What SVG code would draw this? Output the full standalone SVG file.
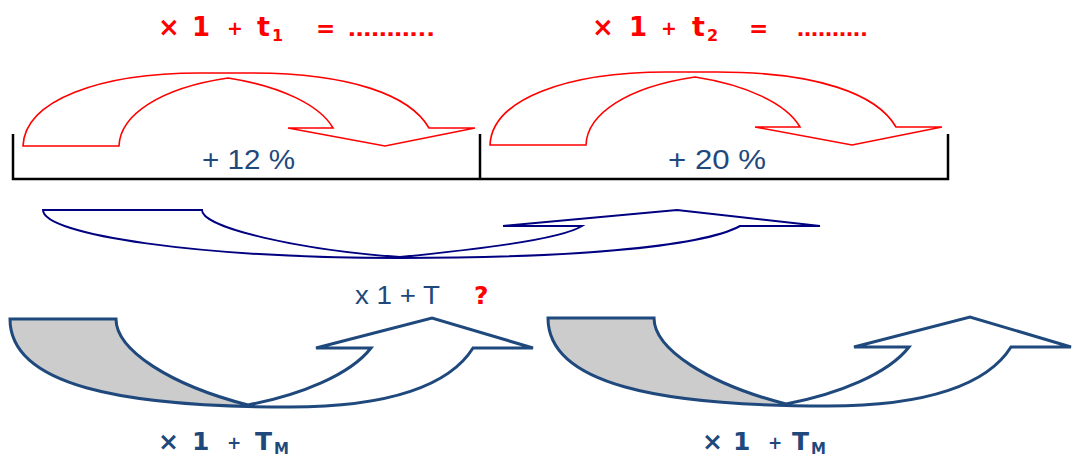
<svg xmlns="http://www.w3.org/2000/svg" width="1074" height="457" viewBox="0 0 1074 457">
<style>
.red{fill:#FF0000;font-family:"DejaVu Sans",sans-serif;font-weight:bold}
.blue{fill:#1F497D;font-family:"Liberation Sans",sans-serif}
.blueb{fill:#1F497D;font-family:"DejaVu Sans",sans-serif;font-weight:bold}
.redarrow{fill:#FFFFFF;stroke:#FF0000;stroke-width:1.6;stroke-linejoin:miter}
.midarrow{fill:#FFFFFF;stroke:#000080;stroke-width:2}
.botarrow{fill:none;stroke:#1F497D;stroke-width:3}
.bracket{fill:none;stroke:#000000;stroke-width:2.5}
</style>
<defs>
<path id="redShape" d="M23,146 L119,146 C120,115 160,88 228,78 C280,86 320,105 333,128 L288,128 L385,146 L475,128 L429,128 C410,95 350,73 250,73 L200,73 C100,73 25,100 23,146 Z"/>
<path id="botShape" d="M10,319 L116,319 C116,350 170,385 248,405 C300,395 350,375 371,348 L316,348 L432,318 L533,348 L473,348 C450,385 390,407 290,407 C120,407 10,385 10,319 Z"/>
<clipPath id="botClip" clipPathUnits="userSpaceOnUse"><use href="#botShape"/></clipPath>
</defs>

<g id="formula1">
<text class="red" x="158" y="36" font-size="26">×</text>
<text class="red" x="192" y="36" font-size="26">1</text>
<text class="red" x="227" y="35" font-size="19">+</text>
<text class="red" x="257" y="36" font-size="27">t</text>
<text class="red" x="272" y="41" font-size="16">1</text>
<text class="red" x="316" y="36" font-size="23">=</text>
<text class="red" x="348" y="36" font-size="20" textLength="87" lengthAdjust="spacingAndGlyphs">………..</text>
</g>
<g id="formula2">
<text class="red" x="592" y="36" font-size="26">×</text>
<text class="red" x="629" y="36" font-size="26">1</text>
<text class="red" x="661" y="35" font-size="19">+</text>
<text class="red" x="692" y="36" font-size="27">t</text>
<text class="red" x="707" y="41" font-size="16">2</text>
<text class="red" x="749" y="36" font-size="23">=</text>
<text class="red" x="797" y="36" font-size="20" textLength="71" lengthAdjust="spacingAndGlyphs">……….</text>
</g>

<g id="bracket">
<path class="bracket" d="M13,134 L13,179 L948,179 L948,134"/>
<path class="bracket" d="M480,134 L480,179"/>
</g>

<g id="arrow1">
<use href="#redShape" class="redarrow"/>
<text class="blue" x="202" y="169" font-size="28" textLength="93" lengthAdjust="spacingAndGlyphs">+ 12 %</text>
</g>
<g id="arrow2">
<use href="#redShape" class="redarrow" transform="translate(467,-1)"/>
<text class="blue" x="668" y="169" font-size="28" textLength="98" lengthAdjust="spacingAndGlyphs">+ 20 %</text>
</g>

<g id="globalArrow">
<path class="midarrow" d="M43,210 L202,210 C202,228 300,250 400,257 C470,250 560,240 582,226 L503,226 L677,210 L820,226 L740,226 C700,248 560,258 400,258 C200,258 43,235 43,210 Z"/>
<text class="blue" x="355" y="304" font-size="26" textLength="85" lengthAdjust="spacingAndGlyphs">x 1 + T</text>
<text class="red" x="474" y="304" font-size="25">?</text>
</g>

<g id="meanArrow1">
<use href="#botShape" fill="#FFFFFF"/>
<path d="M10,319 L116,319 C116,350 170,385 248,405 L248,420 L0,420 L0,319 Z" fill="#CCCCCC" clip-path="url(#botClip)"/>
<use href="#botShape" class="botarrow"/>
<text class="blueb" x="158" y="450" font-size="25">×</text>
<text class="blueb" x="192" y="450" font-size="25">1</text>
<text class="blueb" x="227" y="449" font-size="17">+</text>
<text class="blueb" x="255" y="450" font-size="25">T</text>
<text class="blueb" x="274" y="454" font-size="15">M</text>
</g>

<g id="meanArrow2" transform="translate(538,-1)">
<use href="#botShape" fill="#FFFFFF"/>
<path d="M10,319 L116,319 C116,350 170,385 248,405 L248,420 L0,420 L0,319 Z" fill="#CCCCCC" clip-path="url(#botClip)"/>
<use href="#botShape" class="botarrow"/>
</g>
<g id="meanLabel2">
<text class="blueb" x="702" y="450" font-size="25">×</text>
<text class="blueb" x="733" y="450" font-size="25">1</text>
<text class="blueb" x="768" y="449" font-size="17">+</text>
<text class="blueb" x="792" y="450" font-size="25">T</text>
<text class="blueb" x="811" y="454" font-size="15">M</text>
</g>
</svg>
